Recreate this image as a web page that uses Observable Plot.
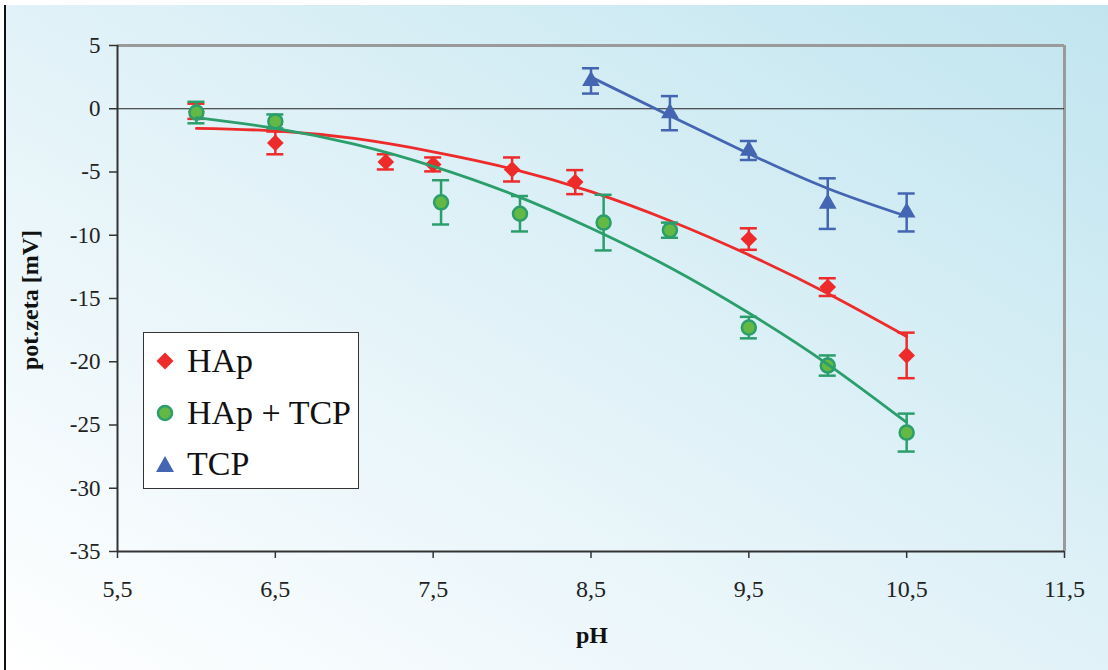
<!DOCTYPE html>
<html><head><meta charset="utf-8">
<script src="https://cdn.jsdelivr.net/npm/d3@7"></script>
<script src="https://cdn.jsdelivr.net/npm/@observablehq/plot@0.6"></script>
<style>
body{margin:0;background:#fff;}
#wrap{position:relative;width:1108px;height:670px;overflow:hidden;font-family:'Liberation Serif','Times New Roman',serif;}
#bg{position:absolute;left:4px;top:5px;right:0;bottom:0;border-left:2px solid #111;background:linear-gradient(to top right,#ffffff 0%,#e1f2f8 50%,#c1e5ef 100%);}
#chart{position:absolute;left:0;top:0;}
#chart svg{background:transparent;}
.ytitle{position:absolute;left:30px;top:300px;transform:translate(-50%,-50%) rotate(-90deg);font-weight:bold;font-size:24px;color:#111;white-space:nowrap;}
.xtitle{position:absolute;left:592px;top:635px;transform:translate(-50%,-50%);font-weight:bold;font-size:24px;color:#111;}
#legend{position:absolute;left:143px;top:332px;width:214px;height:155px;border:1px solid #333;background:#fff;}
.item{position:absolute;left:0;height:40px;display:flex;align-items:center;font-size:34px;color:#111;white-space:nowrap;}
.item svg{margin-left:12px;margin-right:13px;}
</style></head>
<body>
<div id="wrap">
  <div id="bg"></div>
  <div id="chart"></div>
  <div class="ytitle">pot.zeta [mV]</div>
  <div class="xtitle">pH</div>
  <div id="legend"></div>
</div>
<script>
// ---- data ----
const seriesNames = ["HAp", "HAp + TCP", "TCP"];
const seriesColors = ["#ee2b2b", "#2b9e6c", "#4465b1"];
const mixFill = "#63b943";

const hapPH  = [6.0, 6.5, 7.2, 7.5, 8.0, 8.4, 9.5, 10.0, 10.5];
const hapZ   = [-0.2, -2.7, -4.2, -4.4, -4.8, -5.8, -10.3, -14.1, -19.5];
const hapErr = [0.6, 0.9, 0.6, 0.55, 0.95, 0.95, 0.85, 0.7, 1.8];

const mixPH  = [6.0, 6.5, 7.55, 8.05, 8.58, 9.0, 9.5, 10.0, 10.5];
const mixZ   = [-0.3, -1.0, -7.4, -8.3, -9.0, -9.6, -17.3, -20.3, -25.6];
const mixErr = [0.85, 0.55, 1.75, 1.4, 2.2, 0.6, 0.85, 0.8, 1.5];

const tcpPH  = [8.5, 9.0, 9.5, 10.0, 10.5];
const tcpZ   = [2.2, -0.35, -3.3, -7.5, -8.2];
const tcpErr = [1.0, 1.35, 0.75, 2.0, 1.5];

// trend lines
const fitPH    = [6.0, 6.5, 7.0, 7.5, 8.0, 8.5, 9.0, 9.5, 10.0, 10.5];
const hapFitZ  = [-1.55, -1.75, -2.35, -3.4, -4.75, -6.55, -8.85, -11.55, -14.6, -18.0];
const mixFitZ  = [-0.7, -1.55, -2.8, -4.55, -6.75, -9.45, -12.55, -16.15, -20.2, -24.8];
const tcpFitPH = [8.5, 9.0, 9.5, 10.0, 10.5];
const tcpFitZ  = [2.5, -0.55, -3.55, -6.3, -8.5];

const xTicks = [5.5, 6.5, 7.5, 8.5, 9.5, 10.5, 11.5];
const yTicks = [5, 0, -5, -10, -15, -20, -25, -30, -35];

// ---- tables ----
const mk = (px, z, e) => px.map((p, i) => ({pH: p, z: z[i], e: e[i]}));
const hap = mk(hapPH, hapZ, hapErr);
const mix = mk(mixPH, mixZ, mixErr);
const tcp = mk(tcpPH, tcpZ, tcpErr);
const line = (px, z) => px.map((p, i) => ({pH: p, z: z[i]}));
const capHalf = 0.054;
const caps = d => d.flatMap(o => [{pH: o.pH, z: o.z + o.e}, {pH: o.pH, z: o.z - o.e}]);

function errMarks(data, color) {
  return [
    Plot.ruleX(data, {x: "pH", y1: d => d.z - d.e, y2: d => d.z + d.e, stroke: color, strokeWidth: 2.5}),
    Plot.ruleY(caps(data), {y: "z", x1: d => d.pH - capHalf, x2: d => d.pH + capHalf, stroke: color, strokeWidth: 2.5})
  ];
}

const chart = Plot.plot({
  width: 1108, height: 670,
  marginLeft: 117, marginRight: 44, marginTop: 45, marginBottom: 119,
  style: {background: "transparent", fontFamily: "'Liberation Serif','Times New Roman',serif", color: "#222"},
  x: {domain: [5.5, 11.5], label: null},
  y: {domain: [-35, 5], label: null},
  marks: [
    Plot.ruleY([5], {stroke: "#9a9a9a", strokeWidth: 3}),
    Plot.ruleX([11.5], {stroke: "#9a9a9a", strokeWidth: 3}),
    Plot.ruleY([0], {stroke: "#222", strokeWidth: 1}),
    Plot.axisY({ticks: yTicks, tickFormat: d => String(d), tickSize: 8, tickPadding: 9, fontSize: 23, stroke: "#333", strokeWidth: 1.5, label: null}),
    Plot.axisX({ticks: xTicks, tickFormat: d => String(d).replace(".", ","), tickSize: 7, tickPadding: 21, fontSize: 24, stroke: "#333", strokeWidth: 1.5, label: null}),
    Plot.ruleX([5.5], {stroke: "#333", strokeWidth: 2}),
    Plot.ruleY([-35], {stroke: "#333", strokeWidth: 2}),
    // HAp
    ...errMarks(hap, seriesColors[0]),
    Plot.dot(hap, {x: "pH", y: "z", symbol: "diamond2", r: 7.5, fill: seriesColors[0], stroke: "none"}),
    Plot.line(line(fitPH, hapFitZ), {x: "pH", y: "z", curve: "natural", stroke: seriesColors[0], strokeWidth: 2.8}),
    // HAp + TCP
    ...errMarks(mix, seriesColors[1]),
    Plot.dot(mix, {x: "pH", y: "z", symbol: "circle", r: 7, fill: mixFill, stroke: seriesColors[1], strokeWidth: 2.5}),
    Plot.line(line(fitPH, mixFitZ), {x: "pH", y: "z", curve: "natural", stroke: seriesColors[1], strokeWidth: 2.8}),
    // TCP
    ...errMarks(tcp, seriesColors[2]),
    Plot.dot(tcp, {x: "pH", y: "z", symbol: "triangle", r: 6.6, fill: seriesColors[2], stroke: "none"}),
    Plot.line(line(tcpFitPH, tcpFitZ), {x: "pH", y: "z", curve: "natural", stroke: seriesColors[2], strokeWidth: 2.8})
  ]
});
document.getElementById("chart").appendChild(chart);

// ---- legend ----
const icons = [
  `<svg width="18" height="18" viewBox="-9 -9 18 18"><path d="M0,-8.5L8.5,0L0,8.5L-8.5,0Z" fill="${seriesColors[0]}"/></svg>`,
  `<svg width="18" height="18" viewBox="-9 -9 18 18"><circle r="7" fill="${mixFill}" stroke="${seriesColors[1]}" stroke-width="2.5"/></svg>`,
  `<svg width="18" height="18" viewBox="-9 -9 18 18"><path d="M0,-8L9,8L-9,8Z" fill="${seriesColors[2]}"/></svg>`
];
const tops = [8, 60, 111];
const leg = document.getElementById("legend");
seriesNames.forEach((n, i) => {
  const d = document.createElement("div");
  d.className = "item";
  d.style.top = tops[i] + "px";
  d.innerHTML = icons[i] + `<span>${n}</span>`;
  leg.appendChild(d);
});
</script>
</body></html>
